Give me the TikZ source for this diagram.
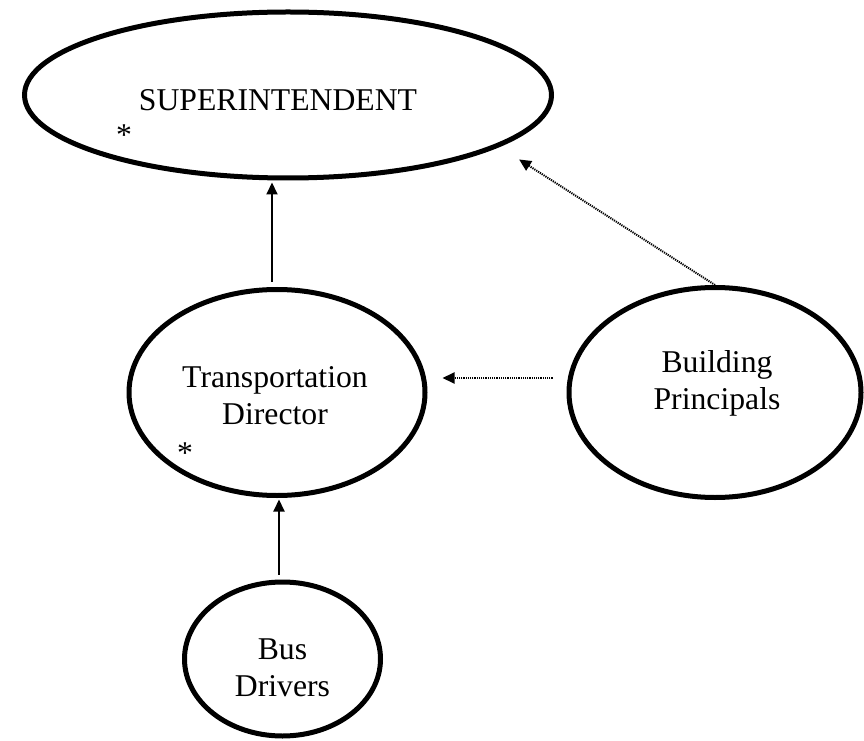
\documentclass[tikz,border=0pt]{standalone}
\usepackage{fontspec}
\setmainfont{Liberation Serif}
\usetikzlibrary{shapes.geometric, arrows.meta}

\begin{document}
\begin{tikzpicture}[x=1pt, y=1pt,
    bubble/.style={ellipse, draw=black, line width=5pt, fill=white, inner sep=0pt},
    caption/.style={inner sep=0pt, align=center, font=\fontsize{31.7}{37}\selectfont},
    star/.style={inner sep=0pt, anchor=north, font=\fontsize{31.7}{37}\selectfont},
    solidarr/.style={-{Triangle[length=12pt, width=11pt]}, line width=2pt},
    dotarr/.style={-{Triangle[length=12pt, width=11pt]}, line width=2pt, dash pattern=on 1.2pt off 1pt}]
        \useasboundingbox (0, 0) rectangle (864, 740);

        \node[bubble, minimum width=527pt, minimum height=166pt] (super) at (288, 645) {};
        \node[bubble, minimum width=296pt, minimum height=206pt] (td) at (277, 347.5) {};
        \node[bubble, minimum width=292pt, minimum height=210pt] (bp) at (715, 347.5) {};
        \node[bubble, minimum width=196pt, minimum height=154pt] (bd) at (282.5, 81) {};

        \node[caption] (super-t) at ([xshift=-10pt, yshift=-5pt]super.center) {SUPERINTENDENT};
        \node[caption] (td-t) at ([xshift=-2pt, yshift=-3pt]td.center) {Transportation\\Director};
        \node[caption] (bp-t) at ([xshift=2pt, yshift=9pt]bp.center) {Building\\Principals};
        \node[caption] (bd-t) at ([yshift=-9pt]bd.center) {Bus\\Drivers};

        \node[star] (s1) at (124, 615) {*};
        \node[star] (s2) at (185, 297) {*};

        \draw[solidarr] ([xshift=-5pt, yshift=5pt]td.north) -- ([xshift=-5pt, yshift=-2pt]td.north |- super.south);
        \draw[solidarr] ([xshift=-3.5pt, yshift=5pt]bd.north) -- ([xshift=-3.5pt, yshift=-1.5pt]bd.north |- td.south);

        \draw[dotarr] ([xshift=-14pt, yshift=14.5pt]bp.west) -- ([xshift=15pt, yshift=14.5pt]td.east);
        \draw[dotarr] (bp.north) -- ([xshift=43pt, yshift=-4pt]super.south east);
    \end{tikzpicture}
\end{document}
